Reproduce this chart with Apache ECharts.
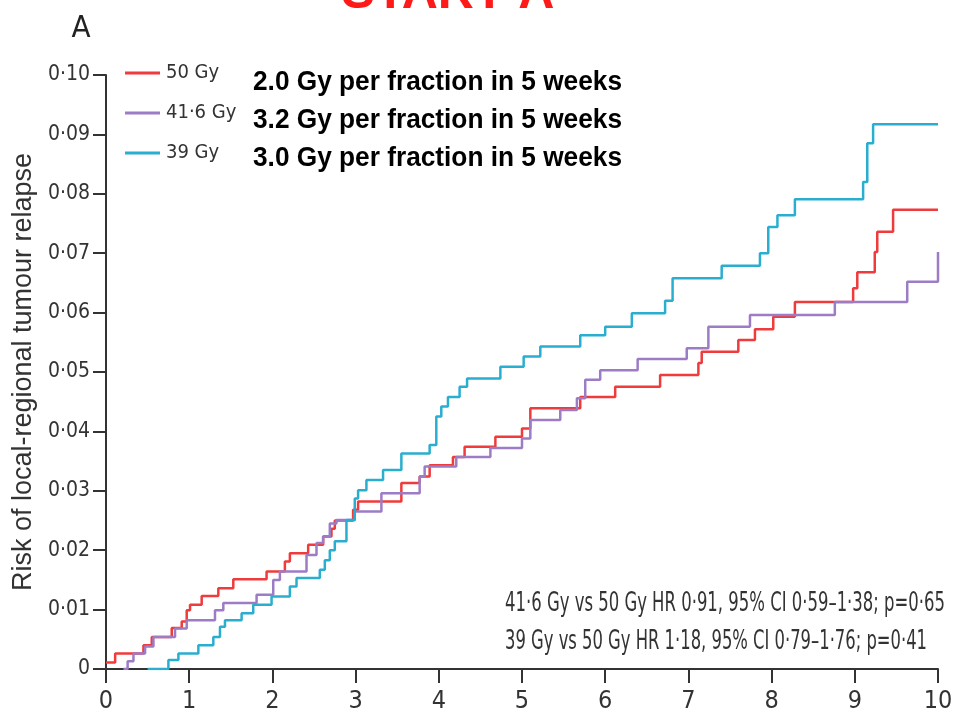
<!DOCTYPE html>
<html>
<head>
<meta charset="utf-8">
<script src="https://cdn.jsdelivr.net/npm/echarts@6/dist/echarts.min.js"></script>
<style>
  html, body { margin: 0; padding: 0; background: #fff; }
  #chart { width: 957px; height: 717px; }
</style>
</head>
<body>
<div id="chart"></div>
<script>
// Cumulative risk of local-regional tumour relapse (Kaplan-Meier steps), years 0-10
const xTickLabels = ['0', '1', '2', '3', '4', '5', '6', '7', '8', '9', '10'];
const yTickLabels = ['0', '0·01', '0·02', '0·03', '0·04', '0·05', '0·06', '0·07', '0·08', '0·09', '0·10'];
const seriesNames = ['50 Gy', '41·6 Gy', '39 Gy'];
const scheduleNotes = [
  '2.0 Gy per fraction in 5 weeks',
  '3.2 Gy per fraction in 5 weeks',
  '3.0 Gy per fraction in 5 weeks'
];
const hazardNotes = [
  '41·6 Gy vs 50 Gy HR 0·91, 95% CI 0·59–1·38; p=0·65',
  '39 Gy vs 50 Gy HR 1·18, 95% CI 0·79–1·76; p=0·41'
];

// [years, cumulative risk]
const relapse50Gy = [
  [0, 0.0011], [0.11, 0.0026], [0.45, 0.0040], [0.55, 0.0054], [0.79, 0.0069],
  [0.91, 0.0080], [0.97, 0.0099], [1.01, 0.0108], [1.15, 0.0123], [1.35, 0.0136],
  [1.53, 0.0151], [1.93, 0.0164], [2.15, 0.0181], [2.21, 0.0195], [2.43, 0.0209],
  [2.61, 0.0223], [2.71, 0.0236], [2.75, 0.0250], [2.97, 0.0268], [3.03, 0.0282],
  [3.55, 0.0313], [3.77, 0.0324], [3.89, 0.0343], [4.17, 0.0357], [4.31, 0.0374],
  [4.68, 0.0391], [5.00, 0.0405], [5.10, 0.0439], [5.70, 0.0458], [6.12, 0.0475],
  [6.66, 0.0495], [7.12, 0.0515], [7.16, 0.0534], [7.60, 0.0554], [7.80, 0.0572],
  [8.02, 0.0593], [8.28, 0.0618], [8.98, 0.0641], [9.03, 0.0668], [9.24, 0.0702],
  [9.27, 0.0736], [9.46, 0.0773], [10, 0.0773]
];
const relapse416Gy = [
  [0.21, 0], [0.26, 0.0013], [0.33, 0.0026], [0.47, 0.0038], [0.57, 0.0054],
  [0.83, 0.0068], [0.97, 0.0082], [1.31, 0.0099], [1.41, 0.0111], [1.81, 0.0125],
  [2.01, 0.0150], [2.09, 0.0164], [2.41, 0.0192], [2.53, 0.0212], [2.61, 0.0223],
  [2.69, 0.0245], [2.77, 0.0251], [2.99, 0.0265], [3.31, 0.0296], [3.77, 0.0324],
  [3.83, 0.0341], [4.21, 0.0357], [4.62, 0.0372], [5.00, 0.0388], [5.10, 0.0419],
  [5.46, 0.0436], [5.66, 0.0456], [5.76, 0.0487], [5.94, 0.0503], [6.39, 0.0522],
  [6.98, 0.0540], [7.24, 0.0576], [7.74, 0.0596], [8.76, 0.0618], [9.63, 0.0652],
  [10, 0.0702]
];
const relapse39Gy = [
  [0.5, 0], [0.75, 0.0015], [0.87, 0.0026], [1.11, 0.0040], [1.29, 0.0054],
  [1.37, 0.0071], [1.43, 0.0082], [1.63, 0.0094], [1.77, 0.0108], [1.99, 0.0122],
  [2.21, 0.0139], [2.29, 0.0153], [2.57, 0.0167], [2.63, 0.0183], [2.69, 0.0200],
  [2.75, 0.0215], [2.89, 0.0251], [2.99, 0.0287], [3.03, 0.0301], [3.13, 0.0318],
  [3.33, 0.0335], [3.55, 0.0363], [3.89, 0.0377], [3.97, 0.0425], [4.03, 0.0442],
  [4.11, 0.0458], [4.25, 0.0475], [4.34, 0.0489], [4.74, 0.0509], [5.02, 0.0526],
  [5.22, 0.0543], [5.70, 0.0562], [6.00, 0.0576], [6.32, 0.0599], [6.72, 0.0620],
  [6.81, 0.0658], [7.40, 0.0679], [7.86, 0.0700], [7.96, 0.0744], [8.07, 0.0764],
  [8.28, 0.0791], [9.10, 0.0820], [9.15, 0.0885], [9.22, 0.0917], [10, 0.0917]
];

const seriesColors = ['#ef3b3b', '#9d7cc6', '#2aaed0'];
const condensed = '"DejaVu Sans Condensed", "Liberation Sans Narrow", sans-serif';
const regular = '"Liberation Sans", Arial, sans-serif';
const inkColor = '#333';

// Horizontal squeeze that makes a text run span the given width
const measureCtx = document.createElement('canvas').getContext('2d');
function squeezeTo(text, font, width) {
  measureCtx.font = font;
  return width / measureCtx.measureText(text).width;
}

const chart = echarts.init(document.getElementById('chart'), null, { renderer: 'canvas' });

function kmSeries(name, data, color) {
  return {
    name: name,
    type: 'line',
    step: 'end',
    data: data,
    showSymbol: false,
    symbol: 'none',
    lineStyle: { color: color, width: 2.5 },
    itemStyle: { color: color },
    emphasis: { disabled: true }
  };
}

const scheduleFont = 'bold 28px ' + regular;
const hazardFont = '26px ' + condensed;
const hazardWidths = [440, 422];

const option = {
  animation: false,
  backgroundColor: '#fff',
  grid: { left: 106, right: 19, top: 75, bottom: 48, containLabel: false, outerBoundsMode: 'none' },
  legend: {
    orient: 'vertical',
    left: 125,
    top: 60,
    padding: 0,
    icon: 'rect',
    itemWidth: 35,
    itemHeight: 3,
    itemGap: 14,
    selectedMode: false,
    data: seriesNames,
    textStyle: { fontFamily: condensed, fontSize: 20, color: inkColor, lineHeight: 26, padding: [0, 0, 0, 1] }
  },
  xAxis: {
    type: 'value',
    min: 0,
    max: 10,
    interval: 1,
    splitLine: { show: false },
    axisLine: { show: true, lineStyle: { color: inkColor, width: 2 } },
    axisTick: { show: true, inside: false, length: 14, lineStyle: { color: inkColor, width: 2 } },
    axisLabel: {
      margin: 20,
      fontFamily: condensed,
      fontSize: 25,
      color: inkColor,
      formatter: (v) => xTickLabels[Math.round(v)]
    }
  },
  yAxis: {
    type: 'value',
    min: 0,
    max: 0.1,
    interval: 0.01,
    name: 'Risk of local-regional tumour relapse',
    nameLocation: 'middle',
    nameRotate: 90,
    nameGap: 68,
    nameTextStyle: { fontFamily: regular, fontSize: 27, color: inkColor },
    splitLine: { show: false },
    axisLine: { show: true, lineStyle: { color: inkColor, width: 2 } },
    axisTick: { show: true, inside: false, length: 13, lineStyle: { color: inkColor, width: 2 } },
    axisLabel: {
      margin: 16,
      fontFamily: condensed,
      fontSize: 21,
      color: inkColor,
      formatter: (v) => yTickLabels[Math.round(v * 100)]
    }
  },
  series: [
    kmSeries(seriesNames[0], relapse50Gy, seriesColors[0]),
    kmSeries(seriesNames[1], relapse416Gy, seriesColors[1]),
    kmSeries(seriesNames[2], relapse39Gy, seriesColors[2])
  ],
  graphic: [
    // trial heading, mostly above the top edge
    {
      type: 'text', x: 448, y: -6,
      style: { text: 'START A', fill: '#ff1a1a', font: 'bold 50px ' + regular, align: 'center', verticalAlign: 'middle' }
    },
    // panel letter
    {
      type: 'text', x: 81, y: 29,
      style: { text: 'A', fill: '#222', font: '31px ' + condensed, align: 'center', verticalAlign: 'middle' }
    },
    // fractionation schedules next to the legend
    ...scheduleNotes.map((t, i) => ({
      type: 'text', x: 253, y: [82, 120, 158][i], scaleX: squeezeTo(t, scheduleFont, 369),
      style: { text: t, fill: '#000', font: scheduleFont, align: 'left', verticalAlign: 'middle' }
    })),
    // hazard ratios
    ...hazardNotes.map((t, i) => ({
      type: 'text', x: 505, y: [604, 642][i], scaleX: squeezeTo(t, hazardFont, hazardWidths[i]),
      style: { text: t, fill: inkColor, font: hazardFont, align: 'left', verticalAlign: 'middle' }
    }))
  ]
};

chart.setOption(option);
</script>
</body>
</html>
